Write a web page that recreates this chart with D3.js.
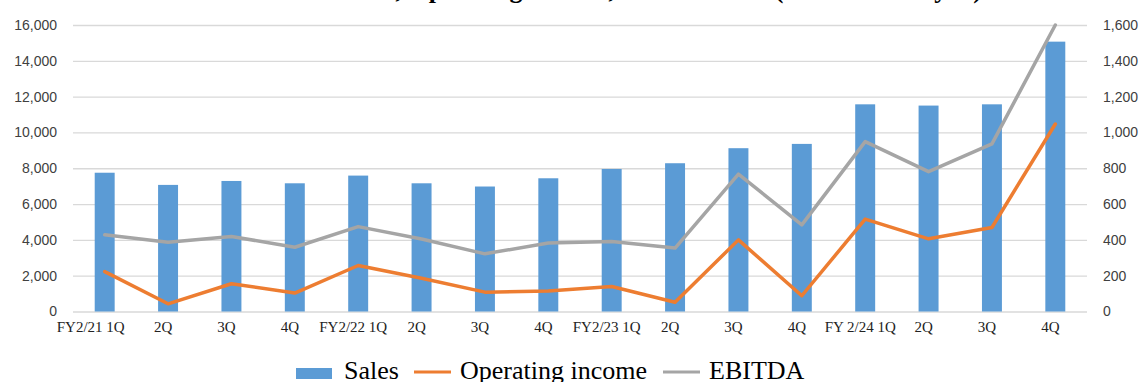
<!DOCTYPE html>
<html>
<head>
<meta charset="utf-8">
<script src="https://cdn.jsdelivr.net/npm/d3@7"></script>
<style>
  html, body { margin: 0; padding: 0; background: #fff; }
  svg { display: block; }
</style>
</head>
<body>
<svg id="chart" width="1140" height="382"></svg>
<script>
// Quarterly results, FY2/21 – FY2/24
const quarters = ["FY2/21 1Q", "2Q", "3Q", "4Q",
                  "FY2/22 1Q", "2Q", "3Q", "4Q",
                  "FY2/23 1Q", "2Q", "3Q", "4Q",
                  "FY 2/24 1Q", "2Q", "3Q", "4Q"];
const sales = [7750, 7070, 7290, 7160, 7590, 7160, 6980, 7440,
               7960, 8280, 9120, 9360, 11570, 11500, 11570, 15070];
const operatingIncome = [223, 43, 155, 103, 257, 186, 108, 115,
                         140, 52, 400, 88, 516, 406, 469, 1047];
const ebitda = [428, 387, 419, 359, 474, 405, 322, 382,
                391, 354, 767, 484, 949, 781, 936, 1600];
const leftTicks = [0, 2000, 4000, 6000, 8000, 10000, 12000, 14000, 16000];
const rightTicks = [0, 200, 400, 600, 800, 1000, 1200, 1400, 1600];
const titleText = "Sales, Operating income, and EBITDA (in millions of yen)";

const colors = { sales: "#5B9BD5", op: "#ED7D31", ebitda: "#A5A5A5", grid: "#D9D9D9", text: "#404040" };

const svg = d3.select("#chart");
const margin = { top: 25, right: 53, bottom: 70.5, left: 73 };
const W = 1140, H = 382;
const innerW = W - margin.left - margin.right;
const innerH = H - margin.top - margin.bottom;

const idx = d3.range(quarters.length);
const x = d3.scaleBand().domain(idx).range([0, innerW]).paddingInner(0.685).paddingOuter(0.3425);
const yL = d3.scaleLinear().domain([0, 16000]).range([innerH, 0]);
const yR = d3.scaleLinear().domain([0, 1600]).range([innerH, 0]);

// Title (sits partly above the visible area)
svg.append("text")
  .attr("x", 982).attr("y", -2)
  .attr("text-anchor", "end")
  .attr("font-family", "'Liberation Serif', 'Times New Roman', serif")
  .attr("font-weight", "bold")
  .attr("font-size", 26)
  .attr("fill", "#000")
  .text(titleText);

const g = svg.append("g").attr("transform", `translate(${margin.left},${margin.top})`);

// Horizontal gridlines
g.append("g").selectAll("line").data(leftTicks).join("line")
  .attr("x1", 0).attr("x2", innerW)
  .attr("y1", d => yL(d) + 0.5).attr("y2", d => yL(d) + 0.5)
  .attr("stroke", colors.grid).attr("stroke-width", 1.3);

// Left axis
const axL = g.append("g")
  .call(d3.axisLeft(yL).tickValues(leftTicks).tickSize(0).tickPadding(16).tickFormat(d3.format(",")));
axL.select(".domain").remove();
axL.selectAll("text")
  .attr("font-family", "'Liberation Sans', Arial, sans-serif")
  .attr("font-size", 14).attr("fill", colors.text);

// Right axis
const axR = g.append("g").attr("transform", `translate(${innerW},0)`)
  .call(d3.axisRight(yR).tickValues(rightTicks).tickSize(0).tickPadding(16).tickFormat(d3.format(",")));
axR.select(".domain").remove();
axR.selectAll("text")
  .attr("font-family", "'Liberation Sans', Arial, sans-serif")
  .attr("font-size", 14).attr("fill", colors.text);

// Category axis
const axB = g.append("g").attr("transform", `translate(0,${innerH})`)
  .call(d3.axisBottom(x).tickSize(0).tickPadding(10).tickFormat(i => quarters[i]));
axB.select(".domain").remove();
axB.selectAll("text")
  .attr("font-family", "'Liberation Serif', 'Times New Roman', serif")
  .attr("font-size", 15).attr("fill", "#222")
  .attr("dx", i => i === 0 ? -14 : -5);

// Sales bars
g.append("g").selectAll("rect").data(sales).join("rect")
  .attr("x", (d, i) => x(i))
  .attr("width", x.bandwidth())
  .attr("y", d => yL(d))
  .attr("height", d => innerH - yL(d))
  .attr("fill", colors.sales);

// Lines on the right axis
const lineR = d3.line().x((d, i) => x(i) + x.bandwidth() / 2).y(d => yR(d));
g.append("path").datum(ebitda)
  .attr("d", lineR).attr("fill", "none")
  .attr("stroke", colors.ebitda).attr("stroke-width", 3.5)
  .attr("stroke-linejoin", "round").attr("stroke-linecap", "round");
g.append("path").datum(operatingIncome)
  .attr("d", lineR).attr("fill", "none")
  .attr("stroke", colors.op).attr("stroke-width", 3.5)
  .attr("stroke-linejoin", "round").attr("stroke-linecap", "round");

// Legend
const legendItems = [
  { name: "Sales", type: "rect", color: colors.sales, x: 296 },
  { name: "Operating income", type: "line", color: colors.op, x: 414 },
  { name: "EBITDA", type: "line", color: colors.ebitda, x: 663 }
];
const lg = svg.append("g");
legendItems.forEach(item => {
  if (item.type === "rect") {
    lg.append("rect").attr("x", item.x).attr("y", 368).attr("width", 36).attr("height", 11).attr("fill", item.color);
  } else {
    lg.append("line").attr("x1", item.x).attr("x2", item.x + 37)
      .attr("y1", 372).attr("y2", 372)
      .attr("stroke", item.color).attr("stroke-width", 3);
  }
  lg.append("text")
    .attr("x", item.type === "rect" ? item.x + 48 : item.x + 46)
    .attr("y", 379)
    .attr("font-family", "'Liberation Serif', 'Times New Roman', serif")
    .attr("font-size", 26).attr("fill", "#000")
    .text(item.name);
});
</script>
</body>
</html>
